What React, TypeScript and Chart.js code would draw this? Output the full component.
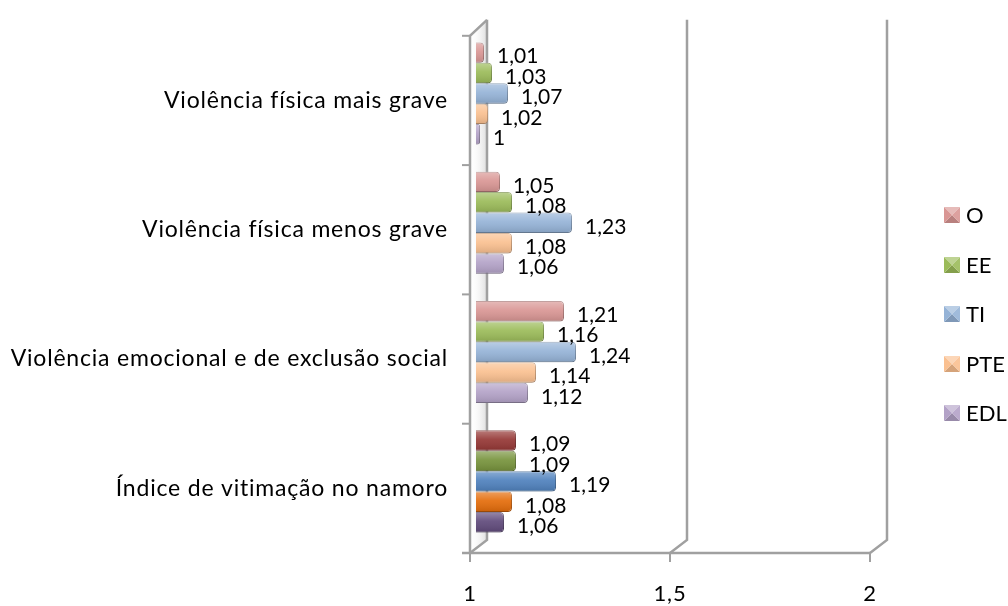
import React, { useEffect, useRef } from "react";
import { Chart, registerables } from "chart.js";

Chart.register(...registerables);

const categories = [
  "Violência física mais grave",
  "Violência física menos grave",
  "Violência emocional e de exclusão social",
  "Índice de vitimação no namoro",
];
const seriesNames = ["O", "EE", "TI", "PTE", "EDL"];
const valuesO = [1.01, 1.05, 1.21, 1.09];
const valuesEE = [1.03, 1.08, 1.16, 1.09];
const valuesTI = [1.07, 1.23, 1.24, 1.19];
const valuesPTE = [1.02, 1.08, 1.14, 1.08];
const valuesEDL = [1, 1.06, 1.12, 1.06];
const xTicks = [1, 1.5, 2];

const lightColors = ["#d99694", "#9bbb59", "#95b3d7", "#fac090", "#b3a2c7"];
const darkColors = ["#953735", "#77933c", "#4f81bd", "#e46c0a", "#604a7b"];

const FONT = "Lato, 'Open Sans', sans-serif";
const FONT_SIZE = 23;
const VALUE_FONT_SIZE = 21;
const WALL = "#a0a0a0";
const DX = 17; // depth offset x
const DY = 13; // depth offset y
const SHIFT_X = 10;
const SHIFT_Y = -7;

function shade(hex: string, f: number): string {
  const n = parseInt(hex.slice(1), 16);
  let r = (n >> 16) & 255, g = (n >> 8) & 255, b = n & 255;
  if (f < 0) {
    r = Math.round(r * (1 + f)); g = Math.round(g * (1 + f)); b = Math.round(b * (1 + f));
  } else {
    r = Math.round(r + (255 - r) * f); g = Math.round(g + (255 - g) * f); b = Math.round(b + (255 - b) * f);
  }
  return `rgb(${r},${g},${b})`;
}

const fmt = (v: number) => String(v).replace(".", ",");

const chartPlugin = {
  id: "excel3d",
  beforeDraw(chart: any) {
    (chart.ctx as any).letterSpacing = "0.8px";
  },
  beforeDatasetsDraw(chart: any) {
    const ctx = chart.ctx as CanvasRenderingContext2D;
    (ctx as any).letterSpacing = "0px";
    const area = chart.chartArea;
    const xs = chart.scales.x;
    ctx.save();
    const lx = xs.getPixelForValue(1);
    const grad = ctx.createLinearGradient(lx, 0, lx + DX, 0);
    grad.addColorStop(0, "rgba(255,255,255,0)");
    grad.addColorStop(1, "rgba(200,200,200,0.6)");
    ctx.fillStyle = grad;
    ctx.beginPath();
    ctx.moveTo(lx, area.top);
    ctx.lineTo(lx + DX, area.top - DY - 3);
    ctx.lineTo(lx + DX, area.bottom - DY);
    ctx.lineTo(lx, area.bottom);
    ctx.closePath();
    ctx.fill();

    ctx.strokeStyle = WALL;
    ctx.lineWidth = 2.5;
    ctx.lineJoin = "miter";
    xTicks.forEach((v) => {
      const fx = xs.getPixelForValue(v);
      ctx.beginPath();
      ctx.moveTo(fx + DX, area.top - DY - 3);
      ctx.lineTo(fx + DX, area.bottom - DY);
      ctx.lineTo(fx, area.bottom);
      ctx.stroke();
    });
    ctx.beginPath();
    ctx.moveTo(lx + DX, area.top - DY - 3);
    ctx.lineTo(lx, area.top);
    ctx.lineTo(lx, area.bottom);
    ctx.stroke();
    ctx.beginPath();
    ctx.moveTo(lx - 8, area.bottom);
    ctx.lineTo(xs.getPixelForValue(2), area.bottom);
    ctx.stroke();
    ctx.lineWidth = 2;
    xTicks.forEach((v) => {
      const fx = xs.getPixelForValue(v);
      ctx.beginPath();
      ctx.moveTo(fx, area.bottom);
      ctx.lineTo(fx, area.bottom + 9);
      ctx.stroke();
    });
    const n = categories.length;
    for (let i = 0; i <= n; i++) {
      const y = area.top + ((area.bottom - area.top) * i) / n;
      ctx.beginPath();
      ctx.moveTo(lx - 8, y);
      ctx.lineTo(lx, y);
      ctx.stroke();
    }
    ctx.restore();

    ctx.save();
    ctx.translate(SHIFT_X, SHIFT_Y);
  },
  afterDatasetsDraw(chart: any) {
    const ctx = chart.ctx as CanvasRenderingContext2D;
    chart.data.datasets.forEach((ds: any, di: number) => {
      const meta = chart.getDatasetMeta(di);
      meta.data.forEach((el: any) => {
        const p = el.getProps(["x", "y", "base", "height"], true);
        const top = p.y - p.height / 2;
        const w = p.x - p.base;
        if (w <= 0) return;
        const g = ctx.createLinearGradient(0, top, 0, top + p.height);
        g.addColorStop(0, "rgba(255,255,255,0.35)");
        g.addColorStop(0.45, "rgba(255,255,255,0.08)");
        g.addColorStop(1, "rgba(0,0,0,0.12)");
        ctx.fillStyle = g;
        ctx.beginPath();
        (ctx as any).roundRect(p.base, top, w, p.height, [0, 4, 4, 0]);
        ctx.fill();
      });
    });
    ctx.fillStyle = "#000";
    ctx.font = `${VALUE_FONT_SIZE}px ${FONT}`;
    ctx.textAlign = "left";
    ctx.textBaseline = "middle";
    chart.data.datasets.forEach((ds: any, di: number) => {
      const meta = chart.getDatasetMeta(di);
      meta.data.forEach((el: any, i: number) => {
        const p = el.getProps(["x", "y"], true);
        ctx.fillText(fmt(ds.data[i]), p.x + 13, p.y + 4);
      });
    });
    ctx.restore();
  },
  afterDraw(chart: any) {
    const ctx = chart.ctx as CanvasRenderingContext2D;
    const ys = [215, 265, 314, 364, 413];
    ctx.save();
    (ctx as any).letterSpacing = "0px";
    seriesNames.forEach((name, i) => {
      const c = lightColors[i];
      const x = 944, y = ys[i] - 8, s = 16;
      const cx = x + s / 2, cy = y + s / 2;
      const tri = (pts: number[][], col: string) => {
        ctx.fillStyle = col;
        ctx.beginPath();
        ctx.moveTo(pts[0][0], pts[0][1]);
        ctx.lineTo(pts[1][0], pts[1][1]);
        ctx.lineTo(pts[2][0], pts[2][1]);
        ctx.closePath();
        ctx.fill();
      };
      tri([[x, y], [x + s, y], [cx, cy]], shade(c, 0.35));
      tri([[x, y + s], [x + s, y + s], [cx, cy]], shade(c, -0.15));
      tri([[x, y], [x, y + s], [cx, cy]], c);
      tri([[x + s, y], [x + s, y + s], [cx, cy]], shade(c, 0.1));
      ctx.fillStyle = "#000";
      ctx.font = `22px ${FONT}`;
      ctx.textAlign = "left";
      ctx.textBaseline = "middle";
      ctx.fillText(name, 966, ys[i] + 1);
    });
    ctx.restore();
  },
};

const allValues = [valuesO, valuesEE, valuesTI, valuesPTE, valuesEDL];

export default function App() {
  const ref = useRef<HTMLCanvasElement | null>(null);
  useEffect(() => {
    document.body.style.margin = "0";
    const canvas = ref.current;
    if (!canvas) return;
    const datasets = seriesNames.map((name, si) => ({
      label: name,
      data: allValues[si],
      base: 0.99,
      clip: false as any,
      backgroundColor: categories.map((_, ci) => (ci === 3 ? darkColors[si] : lightColors[si])),
      borderColor: categories.map((_, ci) => shade(ci === 3 ? darkColors[si] : lightColors[si], -0.25)),
      borderWidth: 1,
      borderRadius: 4,
      borderSkipped: "start" as const,
      barPercentage: 1,
      categoryPercentage: 0.79,
    }));
    const chart = new Chart(canvas, {
      type: "bar",
      data: { labels: categories, datasets },
      options: {
        indexAxis: "y",
        animation: false,
        responsive: true,
        maintainAspectRatio: false,
        layout: { padding: { top: 30, right: 138, bottom: 0, left: 0 } },
        plugins: { legend: { display: false }, tooltip: { enabled: false } },
        scales: {
          x: {
            min: 1,
            max: 2,
            afterBuildTicks: (scale: any) => {
              scale.ticks = xTicks.map((v) => ({ value: v }));
            },
            afterFit: (scale: any) => {
              scale.height = 53;
            },
            grid: { display: false, drawTicks: false },
            border: { display: false },
            ticks: {
              padding: 28,
              color: "#000",
              font: { family: FONT, size: 22 },
              callback: (v: any) => fmt(Number(v)),
              autoSkip: false,
              maxRotation: 0,
            },
          },
          y: {
            afterFit: (scale: any) => {
              scale.width = 470;
            },
            grid: { display: false, drawTicks: false },
            border: { display: false },
            ticks: {
              padding: 22,
              color: "#000",
              font: { family: FONT, size: FONT_SIZE },
            },
          },
        },
      },
      plugins: [chartPlugin as any],
    });
    return () => chart.destroy();
  }, []);
  return (
    <div style={{ width: 1008, height: 606, position: "relative" }}>
      <canvas ref={ref} />
    </div>
  );
}
